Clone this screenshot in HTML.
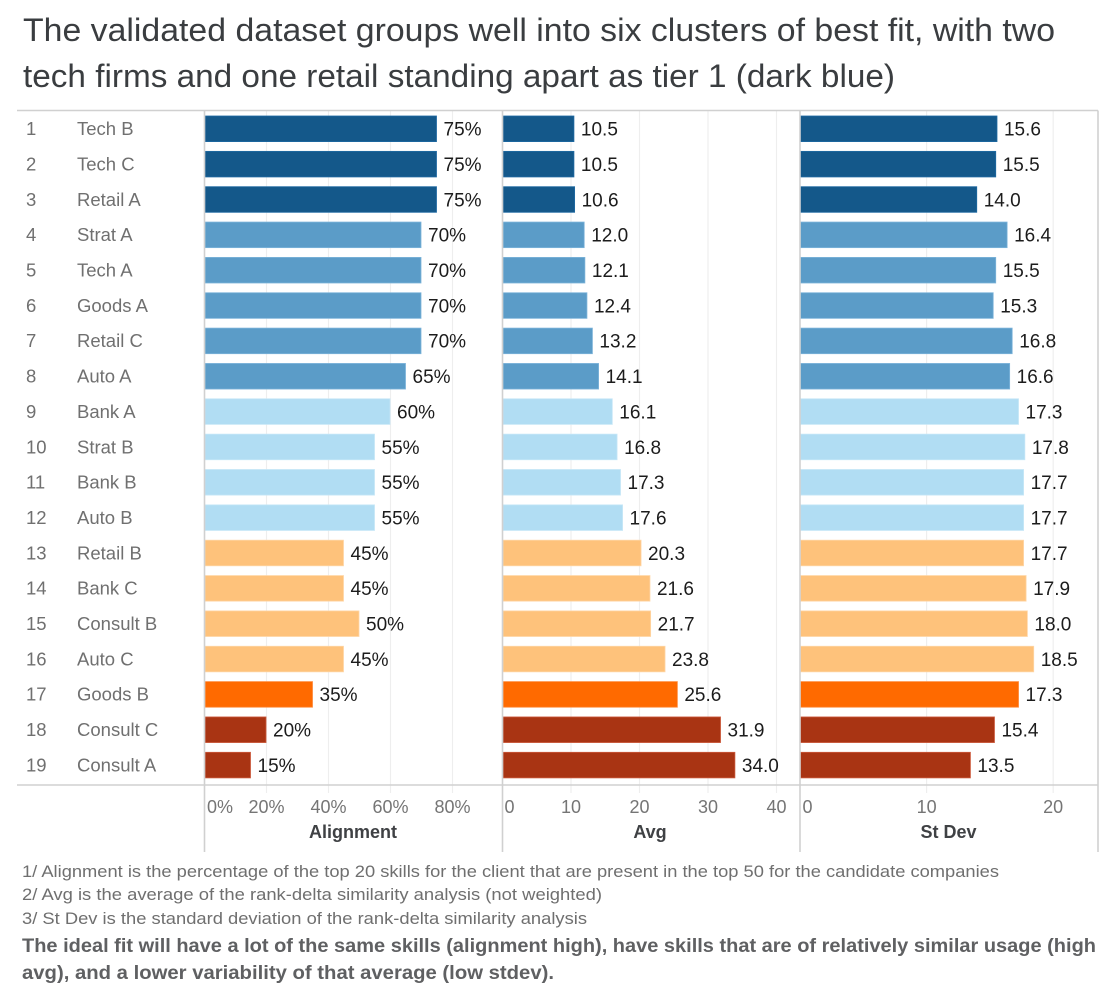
<!DOCTYPE html>
<html lang="en">
<head>
<meta charset="utf-8">
<title>Validated dataset clusters</title>
<style>
html,body{margin:0;padding:0;background:#fff;width:1115px;height:1000px;overflow:hidden}
svg{display:block;font-family:"Liberation Sans",sans-serif}
</style>
</head>
<body>
<svg id="chart" width="1115" height="1000" viewBox="0 0 1115 1000" xmlns="http://www.w3.org/2000/svg">
  <g fill="#3a3d40" font-size="32">
    <text x="23" y="41" textLength="1032" lengthAdjust="spacingAndGlyphs">The validated dataset groups well into six clusters of best fit, with two</text>
    <text x="23" y="87" textLength="872" lengthAdjust="spacingAndGlyphs">tech firms and one retail standing apart as tier 1 (dark blue)</text>
  </g>
  <g id="grid"></g>
  <g id="rows"></g>
  <g id="bars"></g>
  <g id="frame" stroke="#d0d0d0" stroke-width="1.6" fill="none">
    <line x1="17" y1="110.5" x2="1098" y2="110.5"></line>
    <line x1="17" y1="785" x2="1098" y2="785"></line>
    <line x1="204.5" y1="110.5" x2="204.5" y2="852"></line>
    <line x1="502.5" y1="110.5" x2="502.5" y2="852"></line>
    <line x1="800" y1="110.5" x2="800" y2="852"></line>
    <line x1="1098" y1="110.5" x2="1098" y2="852"></line>
  </g>
  <g id="axes"></g>
  <g fill="#6f6f6f" font-size="16.5">
    <text x="22" y="877" textLength="977" lengthAdjust="spacingAndGlyphs">1/ Alignment is the percentage of the top 20 skills for the client that are present in the top 50 for the candidate companies</text>
    <text x="22" y="900" textLength="580" lengthAdjust="spacingAndGlyphs">2/ Avg is the average of the rank-delta similarity analysis (not weighted)</text>
    <text x="22" y="924" textLength="565" lengthAdjust="spacingAndGlyphs">3/ St Dev is the standard deviation of the rank-delta similarity analysis</text>
  </g>
  <g fill="#5f6062" font-size="19.5" font-weight="bold">
    <text x="22" y="952" textLength="1074" lengthAdjust="spacingAndGlyphs">The ideal fit will have a lot of the same skills (alignment high), have skills that are of relatively similar usage (high</text>
    <text x="22" y="979" textLength="532" lengthAdjust="spacingAndGlyphs">avg), and a lower variability of that average (low stdev).</text>
  </g>
</svg>
<script>
const companies = ["Tech B","Tech C","Retail A","Strat A","Tech A","Goods A","Retail C","Auto A","Bank A","Strat B","Bank B","Auto B","Retail B","Bank C","Consult B","Auto C","Goods B","Consult C","Consult A"];
const clusters = [1,1,1,2,2,2,2,2,3,3,3,3,4,4,4,4,5,6,6];
const alignment = [75,75,75,70,70,70,70,65,60,55,55,55,45,45,50,45,35,20,15];
const avg = [10.5,10.5,10.6,12.0,12.1,12.4,13.2,14.1,16.1,16.8,17.3,17.6,20.3,21.6,21.7,23.8,25.6,31.9,34.0];
const stDev = [15.6,15.5,14.0,16.4,15.5,15.3,16.8,16.6,17.3,17.8,17.7,17.7,17.7,17.9,18.0,18.5,17.3,15.4,13.5];
const alignmentTicks = [0,20,40,60,80];
const avgTicks = [0,10,20,30,40];
const stDevTicks = [0,10,20];

const NS = "http://www.w3.org/2000/svg";
const clusterFill = {1:"#14588a",2:"#5b9cc8",3:"#b1ddf3",4:"#fec27b",5:"#ff6a00",6:"#a93413"};
const clusterStroke = {1:"#1f6aa3",2:"#7db4da",3:"#c6e7f7",4:"#ffd6a6",5:"#ff8a3a",6:"#cc5a3c"};
const xAlignment = v => 204.5 + v * 3.1;
const xAvg = v => 502.5 + v * 6.85;
const xStDev = v => 800 + v * 12.66;
const yRow = i => 128.8 + i * 35.35;
const gridEl = document.getElementById("grid");
const rowsEl = document.getElementById("rows");
const barsEl = document.getElementById("bars");
const axesEl = document.getElementById("axes");

function make(tag, attrs, parent, content) {
  const el = document.createElementNS(NS, tag);
  for (const k in attrs) el.setAttribute(k, attrs[k]);
  if (content !== undefined) el.textContent = content;
  parent.appendChild(el);
  return el;
}

function drawTicks(ticks, xFn, fmt, panel, offset) {
  ticks.forEach(function (t) {
    if (t !== 0) {
      const g = make("line", {x1: xFn(t), x2: xFn(t), y1: 111, y2: 793, stroke: "#eeeeee", "stroke-width": 1.2}, gridEl);
      
      
    }
    const tx = t === 0 ? xFn(t) + offset : xFn(t);
    const label = make("text", {x: tx, y: 813, "font-size": 18, fill: "#757575", "text-anchor": t === 0 ? "start" : "middle"}, axesEl, fmt(t));
    
    
  });
}

drawTicks(alignmentTicks, xAlignment, t => t + "%", "alignment", 2.5);
drawTicks(avgTicks, xAvg, t => String(t), "avg", 2);
drawTicks(stDevTicks, xStDev, t => String(t), "stdev", 2.5);

const axisTitles = [["Alignment", 353], ["Avg", 650], ["St Dev", 948.5]];
axisTitles.forEach(function (a) {
  const title = make("text", {x: a[1], y: 838, "font-size": 18, "font-weight": "bold", fill: "#3f4144", "text-anchor": "middle"}, axesEl, a[0]);
  
  
});

function drawSeries(values, xFn, fmt, x0) {
  values.forEach(function (v, i) {
    const y = yRow(i);
    const bar = make("rect", {x: x0 + 0.5, y: y - 12.8, width: xFn(v) - x0 - 1, height: 25.6, fill: clusterFill[clusters[i]], stroke: clusterStroke[clusters[i]], "stroke-width": 0.8}, barsEl);
    
    
    const lab = make("text", {x: xFn(v) + 6.5, y: y + 6.8, "font-size": 19, fill: "#1c1c1c"}, barsEl, fmt(v));
    
    
  });
}

drawSeries(alignment, xAlignment, v => v + "%", 204.5);
drawSeries(avg, xAvg, v => v.toFixed(1), 502.5);
drawSeries(stDev, xStDev, v => v.toFixed(1), 800);

companies.forEach(function (c, i) {
  const y = yRow(i) + 6.3;
  const rank = make("text", {x: 26, y: y, "font-size": 18.5, fill: "#707070"}, rowsEl, String(i + 1));
  
  
  const name = make("text", {x: 77, y: y, "font-size": 18.5, fill: "#707070"}, rowsEl, c);
  
  
});
</script>
</body>
</html>
